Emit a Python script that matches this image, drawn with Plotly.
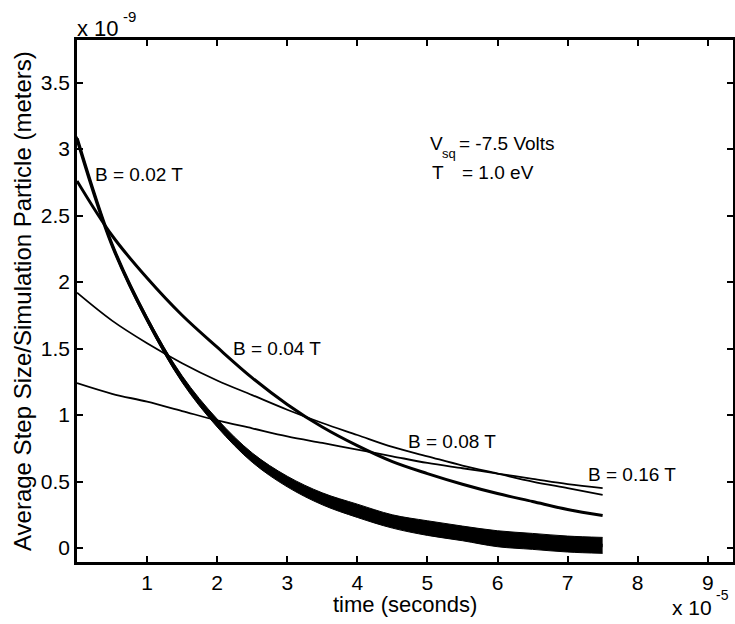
import plotly.graph_objects as go

# time axis (units of 1e-5 s)
time_e5 = [0.0, 0.5, 1.0, 1.5, 2.0, 2.5, 3.0, 3.5, 4.0, 4.5, 5.0, 5.5, 6.0, 6.5, 7.0, 7.5]

# average step size (units of 1e-9 m)
step_b002 = [3.08, 2.28, 1.72, 1.27, 0.94, 0.68, 0.50, 0.37, 0.28, 0.20, 0.15, 0.11, 0.07, 0.05, 0.03, 0.02]
noise_b002 = [0.015, 0.015, 0.02, 0.025, 0.03, 0.035, 0.04, 0.045, 0.05, 0.05, 0.055, 0.055, 0.06, 0.06, 0.06, 0.06]
step_b004 = [2.76, 2.35, 2.03, 1.75, 1.51, 1.28, 1.08, 0.91, 0.77, 0.65, 0.56, 0.48, 0.41, 0.35, 0.29, 0.245]
step_b008 = [1.92, 1.71, 1.54, 1.39, 1.26, 1.15, 1.04, 0.94, 0.85, 0.76, 0.69, 0.62, 0.56, 0.50, 0.45, 0.40]
step_b016 = [1.24, 1.16, 1.10, 1.03, 0.96, 0.90, 0.84, 0.79, 0.74, 0.69, 0.64, 0.60, 0.56, 0.52, 0.48, 0.45]

x_ticks = [1, 2, 3, 4, 5, 6, 7, 8, 9]
y_ticks = [0, 0.5, 1, 1.5, 2, 2.5, 3, 3.5]
y_tick_text = ["0", "0.5", "1", "1.5", "2", "2.5", "3", "3.5"]

FONT = "Liberation Sans, Arial, Helvetica, sans-serif"

# plot-area geometry (px) used to place paper-referenced labels
L, R, T, B = 77, 2, 40, 62
W, H = 735, 624
PW, PH = W - L - R, H - T - B


def px(xp):
    return (xp - L) / PW


def py(yp):
    return (H - B - yp) / PH


fig = go.Figure()

lower = [c - n for c, n in zip(step_b002, noise_b002)]
upper = [c + n for c, n in zip(step_b002, noise_b002)]
fig.add_trace(go.Scatter(x=time_e5, y=lower, mode="lines",
                         line=dict(color="black", width=1, shape="spline"),
                         showlegend=False, hoverinfo="skip"))
fig.add_trace(go.Scatter(x=time_e5, y=upper, mode="lines", fill="tonexty",
                         fillcolor="black",
                         line=dict(color="black", width=1, shape="spline"),
                         showlegend=False, hoverinfo="skip"))
fig.add_trace(go.Scatter(x=time_e5, y=step_b002, mode="lines",
                         line=dict(color="black", width=3.5, shape="spline"),
                         name="B = 0.02 T", showlegend=False))
fig.add_trace(go.Scatter(x=time_e5, y=step_b004, mode="lines",
                         line=dict(color="black", width=3, shape="spline"),
                         name="B = 0.04 T", showlegend=False))
fig.add_trace(go.Scatter(x=time_e5, y=step_b008, mode="lines",
                         line=dict(color="black", width=1.8, shape="spline"),
                         name="B = 0.08 T", showlegend=False))
fig.add_trace(go.Scatter(x=time_e5, y=step_b016, mode="lines",
                         line=dict(color="black", width=1.8, shape="spline"),
                         name="B = 0.16 T", showlegend=False))

ann_font = dict(family=FONT, size=19, color="black")
annotations = [
    dict(x=0.23, y=2.81, text="B = 0.02 T"),
    dict(x=2.2, y=1.50, text="B = 0.04 T"),
    dict(x=4.70, y=0.80, text="B = 0.08 T"),
    dict(x=7.26, y=0.55, text="B = 0.16 T"),
    dict(x=5.03, y=2.82, text="T"),
    dict(x=5.46, y=2.82, text="= 1.0 eV"),
]
for a in annotations:
    fig.add_annotation(xref="x", yref="y", xanchor="left", yanchor="middle",
                       showarrow=False, font=ann_font, **a)


def label(xp, yp, text, size, angle=0, anchor="left"):
    fig.add_annotation(xref="paper", yref="paper", x=px(xp), y=py(yp),
                       xanchor=anchor, yanchor="middle", showarrow=False,
                       textangle=angle, text=text, borderpad=0,
                       font=dict(family=FONT, size=size, color="black"))


# V_sq label built from pieces (subscript placed by hand)
label(429, 143, "V", 19)
label(441, 153, "sq", 13)
label(458, 143, "= -7.5 Volts", 19)

# axis exponent labels
label(76, 28, "x 10", 22)
label(122, 16, "-9", 15)
label(671, 607, "x 10", 21)
label(715, 595, "-5", 14)

# axis titles
label(405, 604, "time (seconds)", 22, anchor="center")
label(22, 301, "Average Step Size/Simulation Particle (meters)", 24, angle=-90, anchor="center")

axis_common = dict(showline=True, linecolor="black", linewidth=2.5, mirror="ticks",
                   ticks="inside", ticklen=6, tickwidth=2, tickcolor="black",
                   showgrid=False, zeroline=False,
                   tickfont=dict(family=FONT, size=21, color="black"))

fig.update_xaxes(range=[0, 9.36], tickvals=x_ticks, ticktext=[str(v) for v in x_ticks],
                 **axis_common)
fig.update_yaxes(range=[-0.105, 3.82], tickvals=y_ticks, ticktext=y_tick_text,
                 **axis_common)

fig.update_layout(width=W, height=H,
                  margin=dict(l=L, r=R, t=T, b=B, autoexpand=False),
                  paper_bgcolor="white", plot_bgcolor="white",
                  font=dict(family=FONT, color="black"),
                  showlegend=False)

# remove the browser's default page margin so the figure sits at the window origin
fig.write_html("out.html", config={"displayModeBar": False},
               post_script="document.body.style.margin='0px';")
